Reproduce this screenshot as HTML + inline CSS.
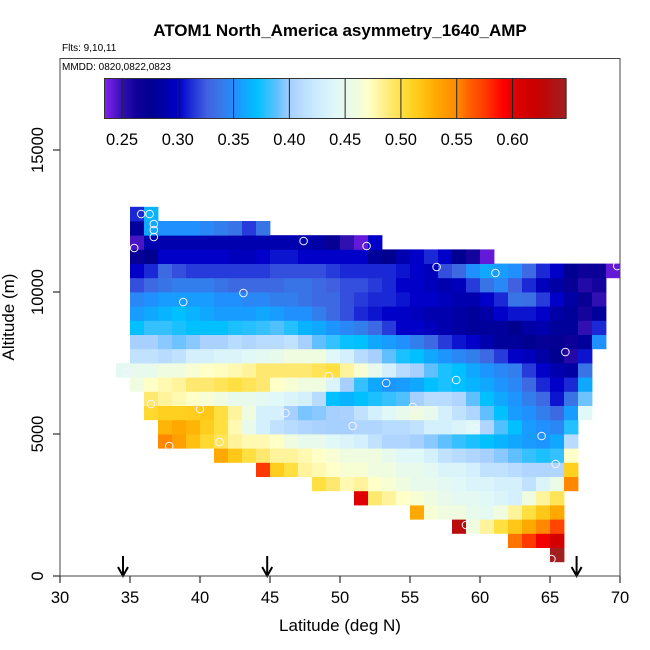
<!DOCTYPE html>
<html><head><meta charset="utf-8"><style>
body{margin:0;background:#fff;}
svg{display:block;font-family:"Liberation Sans",sans-serif;}
</style></head><body>
<svg id="chart" width="650" height="650" viewBox="0 0 650 650" xmlns="http://www.w3.org/2000/svg">
<rect width="650" height="650" fill="#fff"/>
<text x="340" y="36" text-anchor="middle" font-size="17" font-weight="bold">ATOM1 North_America asymmetry_1640_AMP</text>
<text x="62" y="51" font-size="10">Flts: 9,10,11</text>
<text x="62" y="70" font-size="10">MMDD: 0820,0822,0823</text>
<g id="cells"></g>
<g id="points"></g>
<g id="cbar"></g>
<g id="axes"></g>
<rect x="60" y="58.5" width="560" height="517.5" fill="none" stroke="#444" stroke-width="1"/>
<text x="340" y="631" text-anchor="middle" font-size="17">Latitude (deg N)</text>
<text x="14" y="317" text-anchor="middle" font-size="17" transform="rotate(-90 14 317)">Altitude (m)</text>
</svg>
<script>
const rowStart=[0,65,62,58,55,51,48,44,41,37,37,36,36,35,34,35,35,35,35,35,35,35,35,35,35,35];
const rowVals=[
[],
[0.645],
[0.555,0.575,0.595,0.61],
[0.63,0.46,0.48,0.50,0.515,0.53,0.55,0.57],
[0.53,0.465,0.46,0.46,0.45,0.445,0.46,0.48,0.50,0.515,0.53],
[0.60,0.49,0.48,0.47,0.465,0.46,0.45,0.445,0.445,0.44,0.435,0.43,0.46,0.48,0.495],
[0.50,0.49,0.475,0.48,0.47,0.465,0.46,0.45,0.45,0.445,0.44,0.435,0.435,0.43,0.43,0.415,0.435,0.455,0.55],
[0.575,0.512,0.50,0.48,0.475,0.47,0.465,0.465,0.46,0.46,0.45,0.45,0.445,0.435,0.435,0.43,0.415,0.415,0.41,0.405,0.405,0.405,0.51],
[0.53,0.515,0.50,0.49,0.48,0.48,0.475,0.47,0.465,0.46,0.46,0.46,0.45,0.44,0.44,0.43,0.415,0.41,0.405,0.40,0.395,0.388,0.38,0.375,0.38,0.47],
[0.55,0.535,0.52,0.505,0.495,0.48,0.475,0.475,0.47,0.46,0.45,0.45,0.44,0.435,0.43,0.415,0.405,0.405,0.40,0.395,0.388,0.38,0.375,0.37,0.365,0.36,0.355,0.352,0.36,0.41],
[0.525,0.53,0.525,0.512,0.50,0.475,0.45,0.43,0.415,0.41,0.405,0.402,0.40,0.40,0.405,0.405,0.41,0.41,0.415,0.43,0.43,0.435,0.44,0.405,0.385,0.37,0.355,0.35,0.345,0.377],
[0.505,0.51,0.51,0.512,0.515,0.50,0.48,0.46,0.43,0.43,0.40,0.392,0.395,0.40,0.402,0.415,0.43,0.44,0.45,0.46,0.45,0.43,0.415,0.405,0.388,0.37,0.355,0.35,0.34,0.33,0.355,0.44],
[0.49,0.48,0.475,0.47,0.465,0.46,0.45,0.45,0.445,0.44,0.435,0.43,0.41,0.37,0.365,0.37,0.375,0.38,0.385,0.40,0.41,0.41,0.405,0.388,0.37,0.36,0.352,0.34,0.33,0.305,0.335,0.39],
[0.46,0.47,0.475,0.48,0.49,0.49,0.495,0.50,0.495,0.49,0.47,0.465,0.46,0.46,0.435,0.40,0.38,0.36,0.352,0.355,0.36,0.37,0.375,0.37,0.365,0.36,0.352,0.345,0.33,0.31,0.30,0.31,0.36],
[0.445,0.45,0.45,0.46,0.46,0.465,0.47,0.472,0.475,0.48,0.49,0.49,0.49,0.49,0.495,0.50,0.48,0.465,0.45,0.43,0.41,0.40,0.388,0.375,0.37,0.36,0.352,0.345,0.34,0.315,0.30,0.29,0.285,0.335],
[0.415,0.415,0.41,0.415,0.43,0.43,0.435,0.435,0.44,0.445,0.45,0.46,0.46,0.46,0.44,0.43,0.41,0.40,0.388,0.375,0.37,0.36,0.352,0.345,0.34,0.33,0.315,0.30,0.295,0.285,0.275,0.255,0.305],
[0.40,0.40,0.395,0.39,0.395,0.402,0.402,0.41,0.405,0.41,0.41,0.415,0.40,0.388,0.38,0.372,0.37,0.36,0.355,0.35,0.34,0.33,0.315,0.305,0.30,0.29,0.28,0.28,0.275,0.27,0.272,0.265,0.28,0.35],
[0.37,0.38,0.38,0.375,0.37,0.37,0.37,0.375,0.377,0.38,0.385,0.377,0.365,0.36,0.352,0.345,0.34,0.33,0.315,0.30,0.30,0.295,0.29,0.285,0.28,0.28,0.28,0.275,0.285,0.29,0.28,0.28,0.25,0.31],
[0.355,0.36,0.365,0.37,0.365,0.36,0.355,0.355,0.355,0.36,0.355,0.35,0.35,0.34,0.33,0.32,0.31,0.305,0.30,0.30,0.295,0.29,0.29,0.285,0.28,0.285,0.30,0.305,0.305,0.30,0.285,0.28,0.26,0.28],
[0.345,0.35,0.355,0.355,0.355,0.355,0.35,0.35,0.345,0.345,0.34,0.34,0.335,0.33,0.33,0.32,0.315,0.31,0.31,0.305,0.30,0.30,0.295,0.29,0.29,0.30,0.31,0.335,0.333,0.315,0.30,0.285,0.27,0.25],
[0.32,0.33,0.335,0.34,0.34,0.34,0.335,0.33,0.33,0.33,0.33,0.335,0.335,0.33,0.325,0.32,0.32,0.315,0.31,0.30,0.30,0.295,0.29,0.295,0.315,0.335,0.345,0.325,0.31,0.295,0.285,0.27,0.255,0.26],
[0.30,0.31,0.33,0.32,0.315,0.315,0.315,0.315,0.315,0.315,0.32,0.32,0.32,0.32,0.315,0.31,0.31,0.31,0.31,0.305,0.30,0.295,0.32,0.33,0.35,0.36,0.355,0.35,0.33,0.31,0.30,0.275,0.265,0.265,0.24],
[0.27,0.275,0.30,0.30,0.30,0.30,0.30,0.295,0.295,0.30,0.305,0.305,0.30,0.30,0.30,0.30,0.30,0.28,0.275,0.29,0.30,0.31,0.30,0.275,0.26,0.24],
[0.245,0.29,0.29,0.29,0.29,0.29,0.29,0.29,0.29,0.29,0.29,0.29,0.29,0.285,0.27,0.25,0.24,0.30],
[0.28,0.36,0.35,0.35,0.35,0.345,0.34,0.335,0.315,0.335],
[0.31,0.365]
];
const ptLat=[35.8,36.4,36.7,36.7,36.7,35.3,47.4,51.9,56.9,61.1,69.8,38.8,43.1,66.1,34.8,49.2,53.3,58.3,36.5,55.2,40.0,46.1,59.7,50.9,37.8,41.4,64.4,65.4,59.0,65.1];
const ptAlt=[12746,12746,12394,12183,11937,11549,11796,11620,10880,10669,10915,9648,9965,7887,7183,7042,6796,6901,6056,5951,5880,5739,5211,5282,4577,4718,4930,3944,1796,599];
const arrowLat=[34.5,44.8,66.9];
const xTicks=[30,35,40,45,50,55,60,65,70];
const yTicks=[0,5000,10000,15000];
const cbTicks=[0.25,0.30,0.35,0.40,0.45,0.50,0.55,0.60];
const cbMin=0.234, cbMax=0.647;

const NS="http://www.w3.org/2000/svg";
const sx=lat=>60+14*(lat-30);
const sy=alt=>576-alt*0.0284;
const cbx=v=>122+(v-0.25)*1115.7;
const stops=[[0.234,"#8020f0"],[0.25,"#3010b0"],[0.262,"#10009a"],[0.275,"#000090"],[0.288,"#0000aa"],[0.30,"#0000c8"],[0.312,"#2030d8"],[0.325,"#4060e0"],[0.337,"#3878e8"],[0.35,"#2090ff"],[0.37,"#00c0ff"],[0.388,"#60c0ff"],[0.40,"#a8d0ff"],[0.42,"#c8e8ff"],[0.44,"#e0f8f8"],[0.46,"#f0fce0"],[0.47,"#ffffc8"],[0.49,"#ffe870"],[0.50,"#ffe040"],[0.51,"#ffd020"],[0.52,"#ffc010"],[0.53,"#ffa800"],[0.55,"#ff8800"],[0.56,"#ff6000"],[0.575,"#ff3800"],[0.59,"#ff0000"],[0.60,"#e00000"],[0.62,"#c80000"],[0.647,"#a02020"]];
function hex(h){return [1,3,5].map(i=>parseInt(h.substr(i,2),16));}
function cmap(v){
  if(v<=stops[0][0])return stops[0][1];
  for(let i=1;i<stops.length;i++){
    if(v<=stops[i][0]){
      const a=hex(stops[i-1][1]),b=hex(stops[i][1]);
      const t=(v-stops[i-1][0])/(stops[i][0]-stops[i-1][0]);
      return "rgb("+a.map((c,k)=>Math.round(c+(b[k]-c)*t)).join(",")+")";
    }
  }
  return stops[stops.length-1][1];
}
function mk(tag,attrs,parent){const e=document.createElementNS(NS,tag);for(const k in attrs)e.setAttribute(k,attrs[k]);parent.appendChild(e);return e;}

const cells=document.getElementById("cells");
rowVals.forEach((vals,r)=>{
  vals.forEach((v,i)=>{
    const lat=rowStart[r]+i;
    const x0=sx(lat),x1=sx(lat+1),y0=sy((r+1)*500),y1=sy(r*500);
    const c=mk("rect",{x:x0,y:y0,width:(x1-x0+0.4).toFixed(2),height:(y1-y0+0.4).toFixed(2),fill:cmap(v)},cells);
    
    
  });
});
const pts=document.getElementById("points");
ptLat.forEach((lat,i)=>{
  const c=mk("circle",{cx:sx(lat),cy:sy(ptAlt[i]),r:3.8,fill:"none",stroke:"#f4f4ff","stroke-width":1},pts);
  
  
});
// colorbar
const cb=document.getElementById("cbar");
for(let x=104.5;x<566;x+=1){
  const v=cbMin+(x-104.5)/(566-104.5)*(cbMax-cbMin);
  mk("rect",{x:x,y:78.5,width:1.2,height:40,fill:cmap(v)},cb);
}
const cbf=mk("rect",{x:104.5,y:78.5,width:461.5,height:40,fill:"none",stroke:"#333","stroke-width":1},cb);


cbTicks.forEach(v=>{
  mk("line",{x1:cbx(v),x2:cbx(v),y1:78.5,y2:118.5,stroke:"#222","stroke-width":1},cb);
  const t=mk("text",{x:cbx(v),y:145,"text-anchor":"middle","font-size":"16.5"},cb);
  t.textContent=v.toFixed(2);
  
  
});
// axes
const ax=document.getElementById("axes");
xTicks.forEach(v=>{
  mk("line",{x1:sx(v),x2:sx(v),y1:576,y2:583,stroke:"#000","stroke-width":1},ax);
  const t=mk("text",{x:sx(v),y:603,"text-anchor":"middle","font-size":"16.5"},ax);
  t.textContent=v;
  
  
});
yTicks.forEach(v=>{
  mk("line",{x1:53,x2:60,y1:sy(v),y2:sy(v),stroke:"#000","stroke-width":1},ax);
  const t=mk("text",{x:43,y:sy(v),"text-anchor":"middle","font-size":"16.5",transform:"rotate(-90 43 "+sy(v)+")"},ax);
  t.textContent=v;
  
  
});
arrowLat.forEach(lat=>{
  const x=sx(lat);
  const a=mk("path",{d:`M${x},556 L${x},576 M${x-5},567 L${x},576 L${x+5},567`,stroke:"#000","stroke-width":2,fill:"none"},ax);
  
  
});
</script>
</body></html>
